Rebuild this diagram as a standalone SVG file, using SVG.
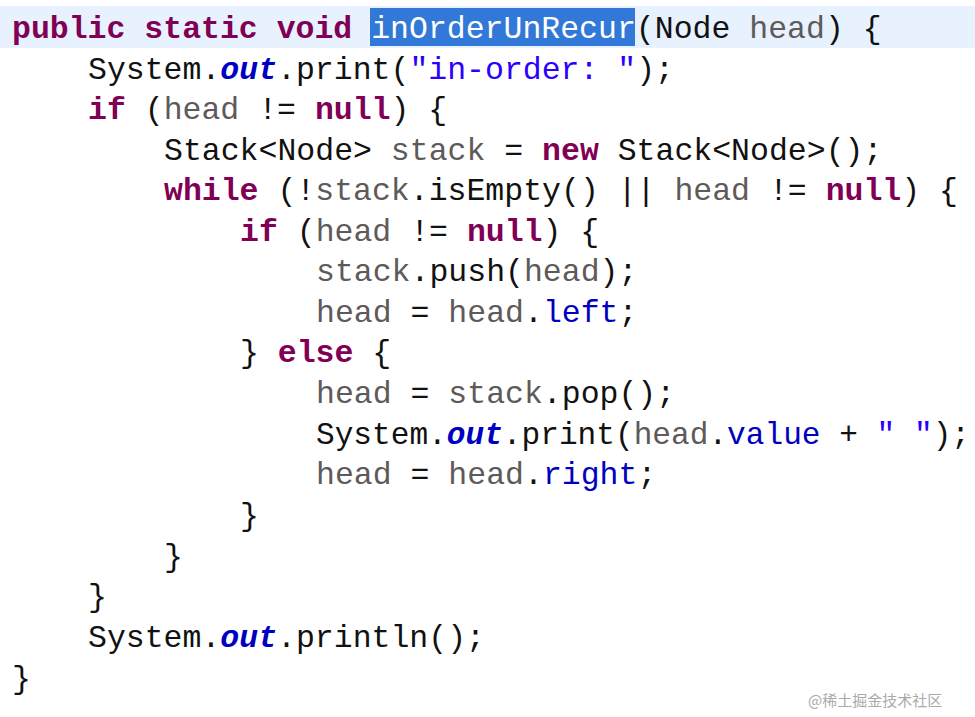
<svg xmlns="http://www.w3.org/2000/svg" width="975" height="717" viewBox="0 0 975 717">
<style>
text{font-family:"Liberation Mono","DejaVu Sans Mono",monospace;font-size:31.5px;fill:#111;white-space:pre}
.k{fill:#7f0055;font-weight:bold}
.v{fill:#5e5a5a}
.f{fill:#0000c0}
.o{fill:#0000c0;font-weight:bold;font-style:italic}
.s{fill:#2a00ff}
.w{fill:#fff}
.wm{font-family:"Noto Sans CJK SC","Noto Sans",sans-serif;font-size:15px;fill:#aaa}
</style>
<rect x="0" y="0" width="975" height="717" fill="#fff"/>
<rect x="0" y="6" width="975" height="42" fill="#e8f2fe"/>
<rect x="370" y="8" width="265" height="38" fill="#3178d8"/>
<g id="code">
<text x="12" y="38" xml:space="preserve"><tspan class="k">public static void </tspan><tspan class="w">inOrderUnRecur</tspan>(Node <tspan class="v">head</tspan>) {</text>
<text x="88" y="79" xml:space="preserve">System.<tspan class="o">out</tspan>.print(<tspan class="s">"in-order: "</tspan>);</text>
<text x="88" y="119" xml:space="preserve"><tspan class="k">if</tspan> (<tspan class="v">head</tspan> != <tspan class="k">null</tspan>) {</text>
<text x="164" y="160" xml:space="preserve">Stack&lt;Node&gt; <tspan class="v">stack</tspan> = <tspan class="k">new</tspan> Stack&lt;Node&gt;();</text>
<text x="164" y="200" xml:space="preserve"><tspan class="k">while</tspan> (!<tspan class="v">stack</tspan>.isEmpty() || <tspan class="v">head</tspan> != <tspan class="k">null</tspan>) {</text>
<text x="240" y="241" xml:space="preserve"><tspan class="k">if</tspan> (<tspan class="v">head</tspan> != <tspan class="k">null</tspan>) {</text>
<text x="316" y="281" xml:space="preserve"><tspan class="v">stack</tspan>.push(<tspan class="v">head</tspan>);</text>
<text x="316" y="322" xml:space="preserve"><tspan class="v">head</tspan> = <tspan class="v">head</tspan>.<tspan class="f">left</tspan>;</text>
<text x="240" y="362" xml:space="preserve">} <tspan class="k">else</tspan> {</text>
<text x="316" y="403" xml:space="preserve"><tspan class="v">head</tspan> = <tspan class="v">stack</tspan>.pop();</text>
<text x="316" y="444" xml:space="preserve" textLength="654" lengthAdjust="spacingAndGlyphs">System.<tspan class="o">out</tspan>.print(<tspan class="v">head</tspan>.<tspan class="f">value</tspan> + <tspan class="s">" "</tspan>);</text>
<text x="316" y="484" xml:space="preserve"><tspan class="v">head</tspan> = <tspan class="v">head</tspan>.<tspan class="f">right</tspan>;</text>
<text x="240" y="525">}</text>
<text x="164" y="566">}</text>
<text x="88" y="606">}</text>
<text x="88" y="647" xml:space="preserve">System.<tspan class="o">out</tspan>.println();</text>
<text x="12" y="688">}</text>
</g>
<text class="wm" x="808" y="706">@稀土掘金技术社区</text>
</svg>
